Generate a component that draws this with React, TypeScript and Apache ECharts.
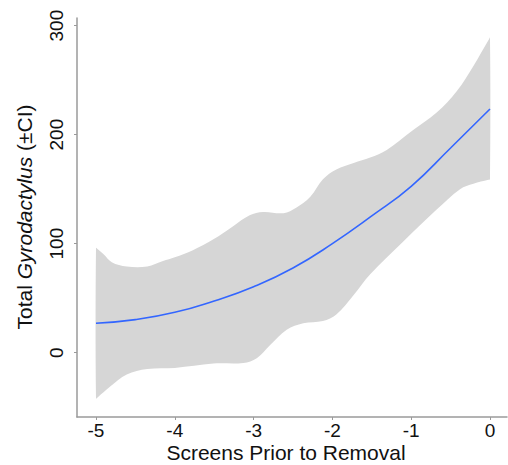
import React, { useEffect, useRef } from "react";
import * as echarts from "echarts";

const xTicks = [-5, -4, -3, -2, -1, 0];
const yTicks = [0, 100, 200, 300];

const meanX = [-5, -4.5, -4, -3.5, -3, -2.5, -2, -1.5, -1, -0.5, 0];
const meanY = [27, 30.3, 37, 47.5, 60.5, 77.7, 100, 125.4, 152.6, 187.8, 223.5];

const upperX = [-5, -4.98, -4.9, -4.8, -4.61, -4.35, -4.15, -4, -3.77, -3.51, -3.26, -3.05, -2.88, -2.62, -2.46, -2.28, -2.12, -1.95, -1.73, -1.52, -1.31, -1, -0.68, -0.42, -0.21, -0.02, 0];
const upperY = [96, 95, 90, 83, 79, 79, 84, 87.5, 94, 104, 116, 126, 129, 128, 133, 143, 159, 168, 174, 179, 186, 203, 220, 240, 263, 286.5, 289];

const lowerX = [-5, -4.98, -4.82, -4.61, -4.35, -4, -3.51, -3.13, -2.96, -2.79, -2.58, -2.37, -2.12, -1.95, -1.73, -1.52, -1.1, -0.68, -0.38, -0.21, -0.02, 0];
const lowerY = [-42, -41, -31, -20, -15, -14, -10, -9.5, -5, 7, 21, 27, 29, 35, 53, 72, 102, 131, 150, 155, 158.6, 159];

const FONT = "Liberation Sans";

export default function App() {
  const ref = useRef<HTMLDivElement>(null);
  useEffect(() => {
    if (!ref.current) return;
    document.body.style.margin = "0";
    const chart = echarts.init(ref.current, undefined, { renderer: "svg" });
    const upper = upperX.map((x, i) => [x, upperY[i]]);
    const lower = lowerX.map((x, i) => [x, lowerY[i]]);
    const mean = meanX.map((x, i) => [x, meanY[i]]);
    chart.setOption({
      animation: false,
      grid: { left: 77, right: 1, top: 18, bottom: 48, containLabel: false },
      xAxis: {
        type: "value",
        min: -5.241,
        max: 0.216,
        splitLine: { show: false },
        axisLine: { onZero: false, lineStyle: { color: "#9a9a9a", width: 1.5 } },
        axisTick: { length: 3, customValues: xTicks, lineStyle: { color: "#9a9a9a" } },
        axisLabel: {
          customValues: xTicks,
          margin: 4,
          lineHeight: 19,
          fontFamily: FONT,
          fontSize: 19,
          color: "#111",
        },
      },
      yAxis: {
        type: "value",
        min: -59,
        max: 307,
        splitLine: { show: false },
        axisLine: { show: true, onZero: false, lineStyle: { color: "#9a9a9a", width: 1.5 } },
        axisTick: { show: true, length: 3, customValues: yTicks, lineStyle: { color: "#9a9a9a" } },
        axisLabel: {
          customValues: yTicks,
          rotate: 90,
          margin: 11,
          lineHeight: 19,
          fontFamily: FONT,
          fontSize: 19,
          color: "#111",
        },
      },
      graphic: [
        {
          type: "text",
          x: 286,
          y: 452.5,
          style: {
            text: "Screens Prior to Removal",
            fontFamily: FONT,
            fontSize: 21,
            lineHeight: 18,
            fill: "#111",
            align: "center",
            verticalAlign: "middle",
          },
        },
        {
          type: "text",
          x: 24,
          y: 217,
          rotation: Math.PI / 2,
          style: {
            text: "{a|Total }{b|Gyrodactylus}{a| (±CI)}",
            fontFamily: FONT,
            fontSize: 21,
            fill: "#111",
            align: "center",
            verticalAlign: "middle",
            rich: {
              a: { fontFamily: FONT, fontSize: 21, fill: "#111" },
              b: { fontFamily: FONT, fontSize: 21, fill: "#111", fontStyle: "italic" },
            },
          },
        },
      ],
      series: [
        {
          type: "custom",
          silent: true,
          z: 1,
          data: [[-5, 0]],
          renderItem: (_params: any, api: any) => {
            const pts = [
              ...upper.map((p) => api.coord(p)),
              ...lower.slice().reverse().map((p) => api.coord(p)),
            ];
            return {
              type: "polygon",
              shape: { points: pts, smooth: 0.35 },
              style: { fill: "#D6D6D6", stroke: "none" },
            };
          },
        },
        {
          type: "line",
          z: 2,
          data: mean,
          smooth: true,
          showSymbol: false,
          lineStyle: { color: "#3366FF", width: 1.6 },
        },
      ],
    });
    return () => chart.dispose();
  }, []);
  return <div ref={ref} style={{ width: 508, height: 465 }} />;
}
